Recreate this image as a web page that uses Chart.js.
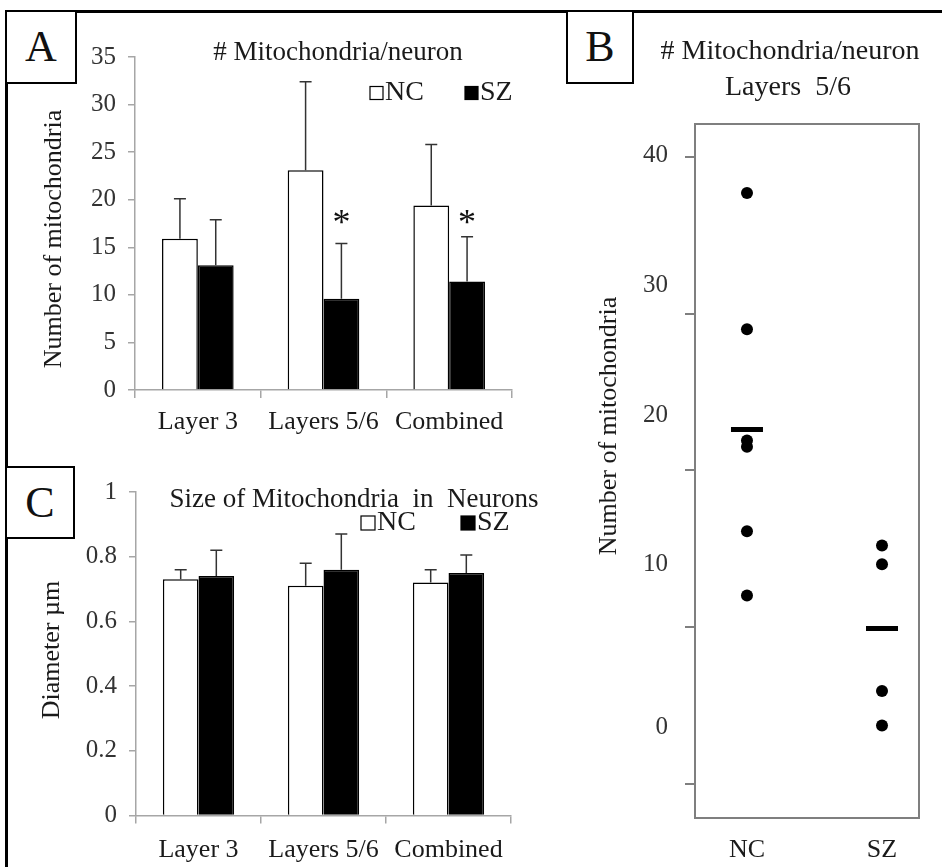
<!DOCTYPE html>
<html>
<head>
<meta charset="utf-8">
<title>Mitochondria per neuron</title>
<script src="https://cdn.jsdelivr.net/npm/chart.js"></script>
<style>
  body { margin: 0; background: #fff; }
  #page { position: relative; width: 942px; height: 867px; overflow: hidden; background: #fff; }
  canvas { position: absolute; }
  .rule { position: absolute; background: #000; z-index: 2; }
  .tag { position: absolute; z-index: 3; box-sizing: border-box; border: 2px solid #000; background: #fff;
         display: flex; align-items: center; justify-content: center;
         font-family: 'Liberation Serif', serif; font-size: 44px; line-height: 1; color: #111; }
</style>
</head>
<body>
<div id="page">
  <canvas id="chartA" width="560" height="440" style="left:0;top:0"></canvas>
  <canvas id="chartC" width="560" height="427" style="left:0;top:440px"></canvas>
  <canvas id="chartB" width="382" height="867" style="left:560px;top:0"></canvas>
  <div class="rule" style="left:5px;top:10px;width:937px;height:3px"></div>
  <div class="rule" style="left:5px;top:10px;width:3px;height:857px"></div>
  <div class="tag" style="left:5px;top:10px;width:72px;height:74px">A</div>
  <div class="tag" style="left:566px;top:10px;width:68px;height:74px">B</div>
  <div class="tag" style="left:5px;top:466px;width:70px;height:73px">C</div>
</div>
<script>
// panel A - number of mitochondria per neuron
const categories = ['Layer 3', 'Layers 5/6', 'Combined'];
const countNC = [15.9, 23.1, 19.4];
const countSZ = [13.1, 9.6, 11.4];
const countNCsd = [4.2, 9.3, 6.4];
const countSZsd = [4.8, 5.8, 4.7];
const countStars = ['', '*', '*'];

// panel C - mitochondria diameter
const sizeNC = [0.73, 0.71, 0.72];
const sizeSZ = [0.74, 0.76, 0.75];
const sizeNCsd = [0.03, 0.07, 0.04];
const sizeSZsd = [0.08, 0.11, 0.055];

// panel B - per subject counts, layers 5/6
const groups = ['NC', 'SZ'];
const dotsNC = [37.7, 29.0, 21.9, 21.5, 16.1, 12.0];
const dotsSZ = [15.2, 14.0, 5.9, 3.7];
const groupMeans = [22.6, 9.9];
const dotTicks = [0, 10, 20, 30, 40];
const dotTickLabels = ['40', '30', '20', '10', '0'];
const dotTickLabelAt = [40.1, 31.8, 23.5, 14.0, 3.6]; // labels sit off the tick marks in the original

const SERIF = "'Liberation Serif', 'Times New Roman', serif";
const AXIS = '#a6a6a6';

const decoPlugin = {
  id: 'deco',
  afterDraw(chart, args, opts) {
    const ctx = chart.ctx;
    ctx.save();
    ctx.textBaseline = 'middle';
    (opts.texts || []).forEach(t => {
      ctx.save();
      ctx.font = t.size + 'px ' + SERIF;
      ctx.fillStyle = '#1a1a1a';
      ctx.textAlign = 'center';
      ctx.translate(t.x, t.y);
      if (t.rotate) ctx.rotate(t.rotate * Math.PI / 180);
      ctx.fillText(t.text, 0, 0);
      ctx.restore();
    });
    const key = opts.key;
    if (key) {
      chart.data.datasets.forEach((ds, i) => {
        const x = key.x[i], b = key.box;
        ctx.fillStyle = ds.backgroundColor;
        ctx.fillRect(x, key.y - b / 2, b, b);
        ctx.strokeStyle = '#000';
        ctx.lineWidth = 1.2;
        ctx.strokeRect(x, key.y - b / 2, b, b);
        ctx.font = key.size + 'px ' + SERIF;
        ctx.fillStyle = '#1a1a1a';
        ctx.textAlign = 'left';
        ctx.fillText(ds.label, x + b + 2, key.y);
      });
    }
    ctx.restore();
  }
};

const errorBarPlugin = {
  id: 'errorBars',
  afterDatasetsDraw(chart, args, opts) {
    const ctx = chart.ctx, y = chart.scales.y;
    ctx.save();
    ctx.strokeStyle = '#333';
    ctx.lineWidth = 1.5;
    chart.data.datasets.forEach((ds, d) => {
      chart.getDatasetMeta(d).data.forEach((bar, i) => {
        const top = y.getPixelForValue(ds.data[i] + ds.errors[i]);
        ctx.beginPath();
        ctx.moveTo(bar.x, bar.y);
        ctx.lineTo(bar.x, top);
        ctx.moveTo(bar.x - 6, top);
        ctx.lineTo(bar.x + 6, top);
        ctx.stroke();
        if (ds.marks && ds.marks[i]) {
          ctx.font = '36px ' + SERIF;
          ctx.fillStyle = '#111';
          ctx.textAlign = 'center';
          ctx.textBaseline = 'alphabetic';
          ctx.fillText(ds.marks[i], bar.x, y.getPixelForValue(opts.starAt) + 17);
        }
      });
    });
    ctx.restore();
  }
};

const boxPlugin = {
  id: 'box',
  beforeDatasetsDraw(chart) {
    const { ctx, chartArea: a } = chart;
    ctx.save();
    ctx.strokeStyle = '#7f7f7f';
    ctx.lineWidth = 2;
    ctx.strokeRect(a.left, a.top, a.right - a.left, a.bottom - a.top);
    ctx.restore();
  }
};

function barPanel(id, nc, sz, ncErr, szErr, opt) {
  return new Chart(document.getElementById(id), {
    type: 'bar',
    data: {
      labels: categories,
      datasets: [
        { label: 'NC', data: nc, errors: ncErr, backgroundColor: '#fff', borderColor: '#000', borderWidth: 1.5 },
        { label: 'SZ', data: sz, errors: szErr, marks: opt.marks, backgroundColor: '#000', borderColor: '#000', borderWidth: 1.5 }
      ]
    },
    options: {
      responsive: false,
      animation: false,
      layout: { padding: { left: 0, top: opt.top, right: opt.right, bottom: 0 } },
      datasets: { bar: { categoryPercentage: 0.57, barPercentage: 1 } },
      plugins: {
        legend: { display: false },
        tooltip: { enabled: false },
        deco: { texts: opt.texts, key: opt.key },
        errorBars: { starAt: opt.starAt }
      },
      scales: {
        x: {
          grid: { offset: true, drawOnChartArea: false, color: AXIS, lineWidth: 1.5, tickLength: 8 },
          border: { color: AXIS, width: 1.5 },
          ticks: { autoSkip: false, maxRotation: 0, padding: opt.xPad, color: '#1a1a1a', font: { family: SERIF, size: 26 } },
          afterFit: s => { s.height = opt.xHeight; }
        },
        y: {
          min: 0,
          max: opt.max,
          ticks: {
            stepSize: opt.step, padding: 12, color: '#333', font: { family: SERIF, size: 25 },
            callback: v => String(Math.round(v * 10) / 10)
          },
          grid: { drawOnChartArea: false, color: AXIS, lineWidth: 1.5, tickLength: 7 },
          border: { color: AXIS, width: 1.5 },
          afterFit: s => { s.width = opt.yWidth; }
        }
      }
    },
    plugins: [decoPlugin, errorBarPlugin]
  });
}

barPanel('chartA', countNC, countSZ, countNCsd, countSZsd, {
  top: 57, right: 48, xHeight: 50, yWidth: 135, xPad: 9, max: 35, step: 5,
  marks: countStars, starAt: 18.2,
  texts: [
    { text: '# Mitochondria/neuron', x: 338, y: 53, size: 27 },
    { text: 'Number of mitochondria', x: 54, y: 239, size: 26, rotate: -90 }
  ],
  key: { x: [370, 465], y: 93, box: 13, size: 28 }
});

barPanel('chartC', sizeNC, sizeSZ, sizeNCsd, sizeSZsd, {
  top: 52, right: 49, xHeight: 51.5, yWidth: 136, xPad: 11, max: 1, step: 0.2,
  marks: null, starAt: 0,
  texts: [
    { text: 'Size of Mitochondria  in  Neurons', x: 354, y: 60, size: 27 },
    { text: 'Diameter \u00b5m', x: 52, y: 210, size: 26, rotate: -90 }
  ],
  key: { x: [361, 461], y: 83, box: 14, size: 28 }
});

new Chart(document.getElementById('chartB'), {
  type: 'scatter',
  data: {
    datasets: [
      { label: 'NC', data: dotsNC.map(v => ({ x: 1, y: v })), pointRadius: 6, backgroundColor: '#000', borderWidth: 0 },
      { label: 'SZ', data: dotsSZ.map(v => ({ x: 2, y: v })), pointRadius: 6, backgroundColor: '#000', borderWidth: 0 },
      { label: 'mean', data: groupMeans.map((v, i) => ({ x: i + 1, y: v })), pointStyle: 'line', pointRadius: 16, borderColor: '#000', borderWidth: 5 }
    ]
  },
  options: {
    responsive: false,
    animation: false,
    layout: { padding: { left: 0, top: 124, right: 23, bottom: 0 } },
    plugins: {
      legend: { display: false },
      tooltip: { enabled: false },
      deco: {
        texts: [
          { text: '# Mitochondria/neuron', x: 230, y: 52, size: 28 },
          { text: 'Layers  5/6', x: 228, y: 88, size: 28 },
          { text: 'Number of mitochondria', x: 49, y: 426, size: 26, rotate: -90 }
        ]
      }
    },
    scales: {
      x: {
        type: 'linear',
        min: 0.615,
        max: 2.274,
        afterBuildTicks: s => { s.ticks = groups.map((g, i) => ({ value: i + 1 })); },
        ticks: { callback: (v, i) => groups[i], padding: 9, color: '#1a1a1a', font: { family: SERIF, size: 26 } },
        grid: { display: false },
        border: { display: false },
        afterFit: s => { s.height = 49; }
      },
      y: {
        min: -2.2,
        max: 42.1,
        weight: 0,
        afterBuildTicks: s => { s.ticks = dotTicks.map(v => ({ value: v })); },
        ticks: { display: false },
        grid: { drawOnChartArea: false, color: '#7f7f7f', lineWidth: 2, tickLength: 10 },
        border: { display: false },
        afterFit: s => { s.width = 10; }
      },
      yl: {
        type: 'linear',
        position: 'left',
        min: -2.2,
        max: 42.1,
        weight: 1,
        afterBuildTicks: s => { s.ticks = dotTickLabelAt.map(v => ({ value: v })); },
        ticks: { callback: (v, i) => dotTickLabels[i], padding: 17, color: '#333', font: { family: SERIF, size: 25 } },
        grid: { display: false, drawTicks: false },
        border: { display: false },
        afterFit: s => { s.width = 125; }
      }
    }
  },
  plugins: [boxPlugin, decoPlugin]
});
</script>
</body>
</html>
